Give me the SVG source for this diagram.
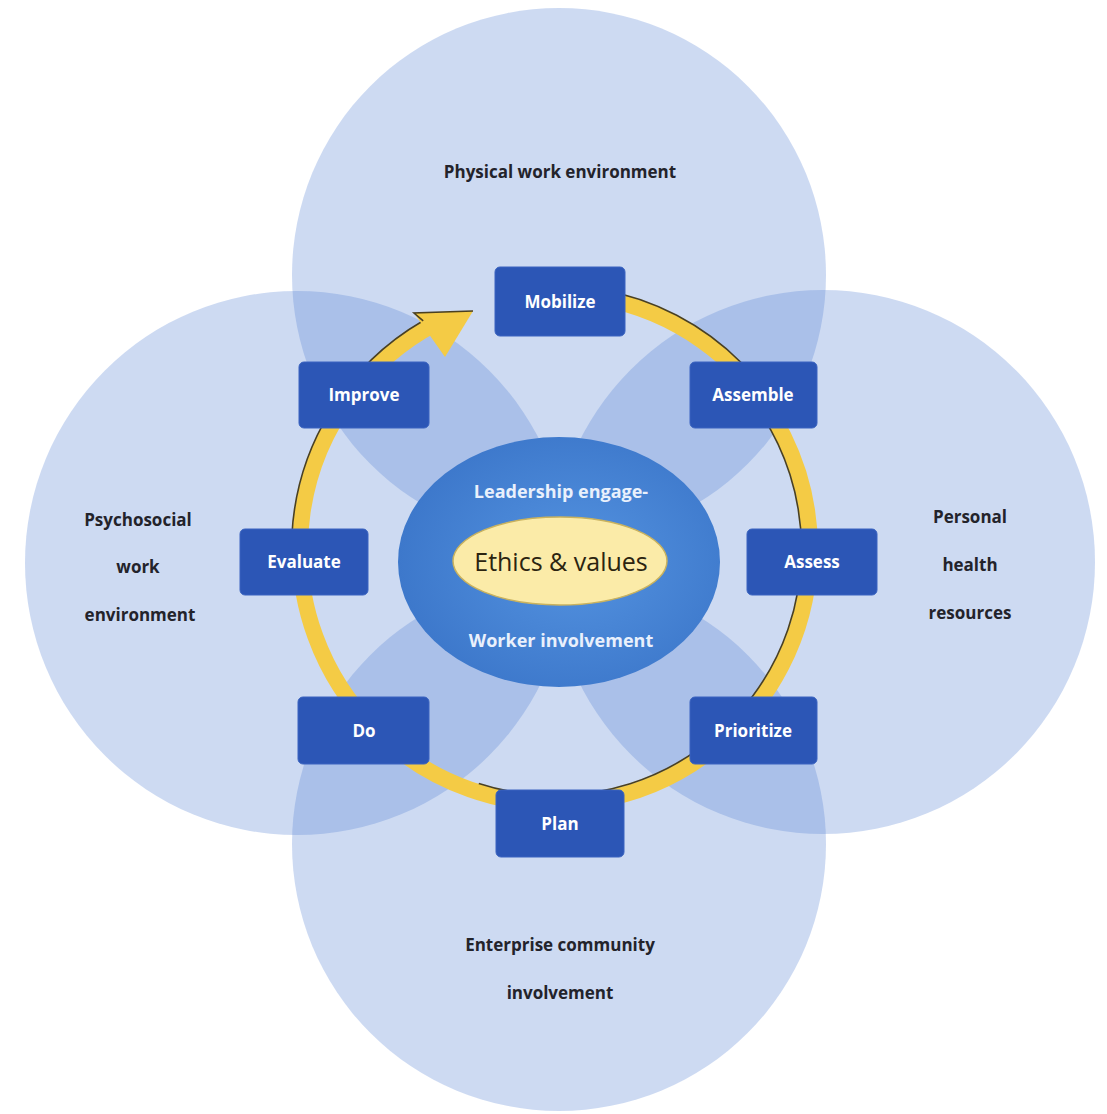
<svg xmlns="http://www.w3.org/2000/svg" width="1107" height="1114" viewBox="0 0 1107 1114">
  <style>
    .area { fill: rgb(88,132,212); fill-opacity: 0.3; }
    .area-label { font-family: "Open Sans", "Liberation Sans", sans-serif; font-weight: 700; font-size: 17px; fill: #23232b; text-anchor: middle; }
    .box { fill: #2C56B6; stroke: #3A63C0; stroke-width: 1; }
    .box-label { font-family: "Open Sans", "Liberation Sans", sans-serif; font-weight: 700; font-size: 17px; fill: #FFFFFF; text-anchor: middle; }
    .ring { fill: none; stroke: #F4CB45; stroke-width: 16; }
    .edge { fill: none; stroke: #4A4020; stroke-width: 1.6; }
    .core-label { font-family: "Open Sans", "Liberation Sans", sans-serif; font-weight: 700; font-size: 18px; fill: #E9F0FC; text-anchor: middle; }
  </style>
  <defs>
    <radialGradient id="coreGrad" cx="0.55" cy="0.5" r="0.55">
      <stop offset="0" stop-color="#5493E0"/>
      <stop offset="1" stop-color="#3D78CB"/>
    </radialGradient>
  </defs>

  <rect x="0" y="0" width="1107" height="1114" fill="#FFFFFF"/>

  <g id="area-physical">
    <circle class="area" cx="559" cy="275" r="267"/>
    <text class="area-label" x="560" y="178">Physical work environment</text>
  </g>
  <g id="area-psychosocial">
    <circle class="area" cx="297" cy="563" r="272"/>
    <text class="area-label" x="138" y="526">Psychosocial</text>
    <text class="area-label" x="138" y="573">work</text>
    <text class="area-label" x="140" y="621">environment</text>
  </g>
  <g id="area-personal">
    <circle class="area" cx="823" cy="562" r="272"/>
    <text class="area-label" x="970" y="523">Personal</text>
    <text class="area-label" x="970" y="571">health</text>
    <text class="area-label" x="970" y="619">resources</text>
  </g>
  <g id="area-enterprise">
    <circle class="area" cx="559" cy="844" r="267"/>
    <text class="area-label" x="560" y="951">Enterprise community</text>
    <text class="area-label" x="560" y="999">involvement</text>
  </g>

  <g id="connectors">
    <path class="ring" d="M599.3,297.9 A255,255 0 1 1 435.3,323.8"/>
    <path class="edge" d="M600.8,289.5 A263.5,263.5 0 0 1 741.3,362.7"/>
    <path class="edge" d="M756.9,407.6 A246.5,246.5 0 0 1 478.8,783.4"/>
    <path class="edge" d="M291.9,535.2 A263.5,263.5 0 0 1 423.2,320.8"/>
    <polygon points="473,311 414,313 445,357" fill="#F4CB45"/>
    <polyline class="edge" points="423.2,320.8 414,313 473,311"/>
  </g>

  <g id="core">
    <ellipse cx="559" cy="562" rx="161" ry="125" fill="url(#coreGrad)"/>
    <text class="core-label" x="561" y="498">Leadership engage-</text>
    <text class="core-label" x="561" y="647">Worker involvement</text>
  </g>
  <g id="ethics">
    <ellipse cx="560" cy="561" rx="107" ry="44" fill="#FBEBA8" stroke="#C9B25E" stroke-width="1.5"/>
    <text x="561" y="571" font-family="Open Sans, Liberation Sans, sans-serif" font-size="25" fill="#2B2410" text-anchor="middle">Ethics &amp; values</text>
  </g>

  <g id="mobilize">
    <rect class="box" x="495" y="267" width="130" height="69" rx="5"/>
    <text class="box-label" x="560" y="308">Mobilize</text>
  </g>
  <g id="assemble">
    <rect class="box" x="690" y="362" width="127" height="66" rx="5"/>
    <text class="box-label" x="753" y="401">Assemble</text>
  </g>
  <g id="assess">
    <rect class="box" x="747" y="529" width="130" height="66" rx="5"/>
    <text class="box-label" x="812" y="568">Assess</text>
  </g>
  <g id="prioritize">
    <rect class="box" x="690" y="697" width="127" height="67" rx="5"/>
    <text class="box-label" x="753" y="737">Prioritize</text>
  </g>
  <g id="plan">
    <rect class="box" x="496" y="790" width="128" height="67" rx="5"/>
    <text class="box-label" x="560" y="830">Plan</text>
  </g>
  <g id="do">
    <rect class="box" x="298" y="697" width="131" height="67" rx="5"/>
    <text class="box-label" x="364" y="737">Do</text>
  </g>
  <g id="evaluate">
    <rect class="box" x="240" y="529" width="128" height="66" rx="5"/>
    <text class="box-label" x="304" y="568">Evaluate</text>
  </g>
  <g id="improve">
    <rect class="box" x="299" y="362" width="130" height="66" rx="5"/>
    <text class="box-label" x="364" y="401">Improve</text>
  </g>
</svg>
